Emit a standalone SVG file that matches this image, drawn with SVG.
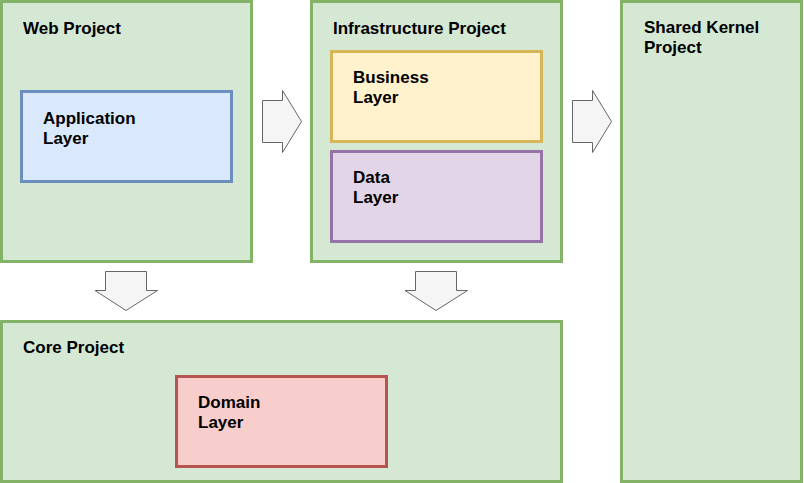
<svg xmlns="http://www.w3.org/2000/svg" width="804" height="483" viewBox="0 0 804 483">
<style>
text{font-family:"Liberation Sans",Arial,sans-serif;font-size:17px;font-weight:bold;fill:#000}
.proj{fill:#d5e8d4;stroke:#82b366;stroke-width:3}
.app{fill:#dae8fc;stroke:#6c8ebf;stroke-width:3}
.bus{fill:#fff2cc;stroke:#d6b656;stroke-width:3}
.data{fill:#e1d5e7;stroke:#9673a6;stroke-width:3}
.dom{fill:#f8cecc;stroke:#b85450;stroke-width:3}
.arr{fill:#f5f5f5;stroke:#666666;stroke-width:1}
</style>
<rect width="804" height="483" fill="#ffffff"/>
<g id="web-project">
<rect class="proj" x="1.5" y="1.5" width="250" height="260"/>
<text x="23" y="34">Web Project</text>
</g>
<g id="application-layer">
<rect class="app" x="21.5" y="91.5" width="210" height="90"/>
<text x="43" y="124">Application</text>
<text x="43" y="144">Layer</text>
</g>
<g id="infrastructure-project">
<rect class="proj" x="311.5" y="1.5" width="250" height="260"/>
<text x="333" y="34">Infrastructure Project</text>
</g>
<g id="business-layer">
<rect class="bus" x="331.5" y="51.5" width="210" height="90"/>
<text x="353" y="83">Business</text>
<text x="353" y="103">Layer</text>
</g>
<g id="data-layer">
<rect class="data" x="331.5" y="151.5" width="210" height="90"/>
<text x="353" y="183">Data</text>
<text x="353" y="203">Layer</text>
</g>
<g id="shared-kernel-project">
<rect class="proj" x="621.5" y="1.5" width="180" height="480"/>
<text x="644" y="33">Shared Kernel</text>
<text x="644" y="53">Project</text>
</g>
<g id="core-project">
<rect class="proj" x="1.5" y="321.5" width="560" height="160"/>
<text x="23" y="353">Core Project</text>
</g>
<g id="domain-layer">
<rect class="dom" x="176.5" y="376.5" width="210" height="90"/>
<text x="198" y="408">Domain</text>
<text x="198" y="428">Layer</text>
</g>
<g id="connectors">
<path class="arr" d="M262.5 100.5 H282.5 V90.5 L301.5 121.5 L282.5 152.5 V142.5 H262.5 Z"/>
<path class="arr" d="M572.5 100.5 H592.5 V90.5 L611.5 121.5 L592.5 152.5 V142.5 H572.5 Z"/>
<path class="arr" d="M105.5 271.5 H146.5 V290.5 H157.5 L126 310.5 L95 290.5 H105.5 Z"/>
<path class="arr" d="M415.5 271.5 H456.5 V290.5 H467.5 L436 310.5 L405 290.5 H415.5 Z"/>
</g>
</svg>
